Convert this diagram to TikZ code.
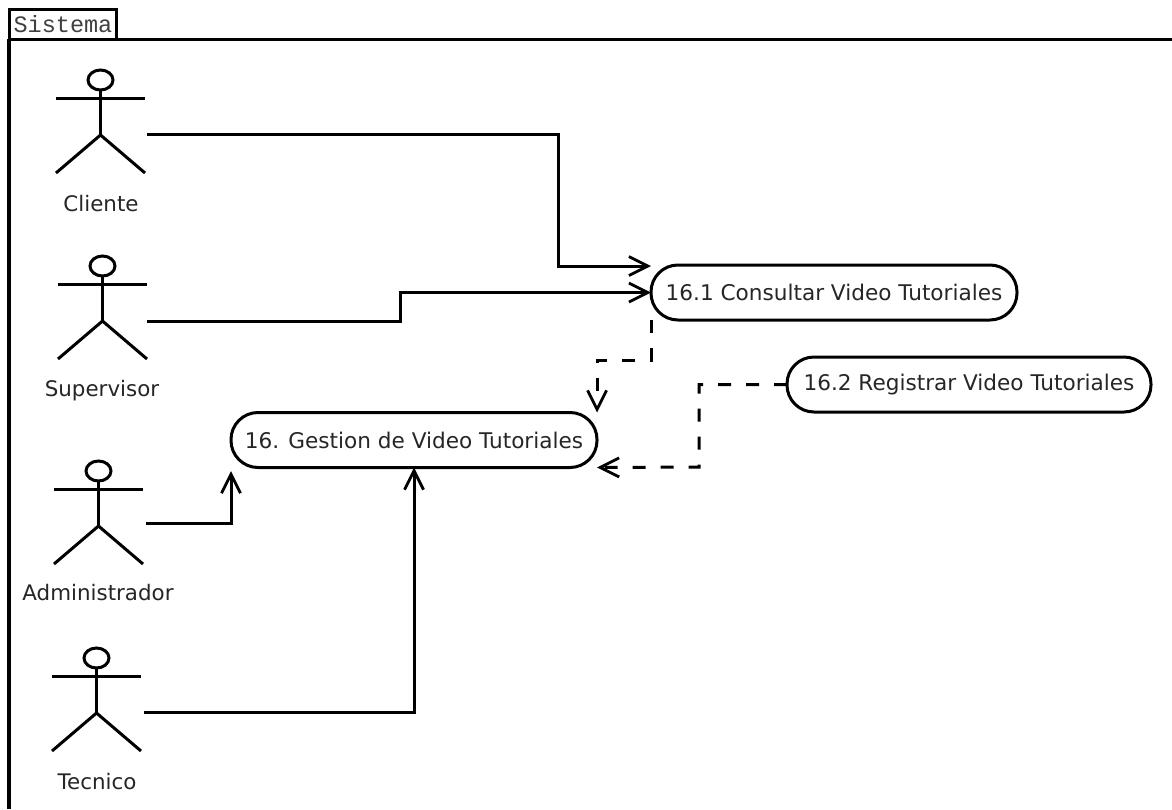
\documentclass[tikz,border=0pt]{standalone}
\usepackage{fontspec}
\setmainfont{DejaVu Sans}
\newfontfamily\tabfont{Liberation Mono}
\usetikzlibrary{arrows.meta}
\tikzset{
  x=1pt,y=-1pt,
  lbl/.style={font=\fontsize{21.4}{24}\selectfont,text=black!85,inner sep=0pt,anchor=center},
  usecase/.style={draw=black,line width=3pt,rounded corners=27pt,minimum width=#1,minimum height=55pt,inner sep=0pt,outer sep=0pt,font=\fontsize{21.6}{24}\selectfont,text=black!85},
  usecase/.default=366pt,
  limb/.style={draw=black,line width=3pt},
  conn/.style={draw=black,line width=3pt,-{Straight Barb[length=19pt,width=19pt,line width=2.8pt]}},
  dep/.style={conn,dash pattern=on 13pt off 15pt},
  frameln/.style={draw=black,line width=3pt},
}
\newcommand{\actor}[2]{% x of body, y of arms
  \begin{scope}[shift={(#1,#2)}]
    \draw[limb] (0,-18) ellipse[x radius=12.5,y radius=10];
    \draw[limb] (-44.5,0) -- (44.5,0);
    \draw[limb] (0,-8) -- (0,37);
    \draw[limb] (-44.5,75) -- (0,37) -- (44.5,75);
  \end{scope}
}
\begin{document}
\begin{tikzpicture}
\useasboundingbox (0,0) rectangle (1172,809);
\fill[white] (0,0) rectangle (1172,809);
% frame
\draw[frameln] (1172,39) -- (9,39);
\draw[draw=black,line width=3.6pt] (9,39) -- (9,809);
\draw[frameln] (9,39) -- (9,9.5) -- (116,9.5) -- (116,39);
\node[inner sep=0pt,font=\tabfont\fontsize{23.5}{24}\selectfont,text=black!75] (tab) at (63,24) {Sistema};
% actors
\actor{100.5}{98}
\actor{102.5}{284}
\actor{98.5}{489}
\actor{96.5}{676}
\node[lbl] (cliente) at (101,204) {Cliente};
\node[lbl] (supervisor) at (102,391) {Supervisor};
\node[lbl] (administrador) at (98,593) {Administrador};
\node[lbl] (tecnico) at (97,782) {Tecnico};
% use cases
\node[usecase] (uc1) at (834,292.5) {16.1 Consultar Video Tutoriales};
\node[usecase=364pt] (uc2) at (969,384.5) {16.2 Registrar Video Tutoriales};
\node[usecase] (uc0) at (414,440) {16. Gestion de Video Tutoriales};
% connector free ends
\coordinate (ca) at (147,134);
\coordinate (cb) at (147,321);
\coordinate (cc) at (146,523);
\coordinate (cd) at (144,712);
\coordinate (k1) at (651,266);
\coordinate (k0) at (231,471);
\draw[conn] (ca) -| (558,266) -- (k1);
\draw[conn] (cb) -| (400,292.5) -- (uc1.west);
\draw[conn] (cc) -| (k0);
\draw[conn] (cd) -| (uc0.south);
\draw[dep] (uc1.south west) |- (597,360) -- (uc0.north east);
\draw[dep] (uc2.west) -| (699,467) -- (uc0.south east);
\end{tikzpicture}
\end{document}
